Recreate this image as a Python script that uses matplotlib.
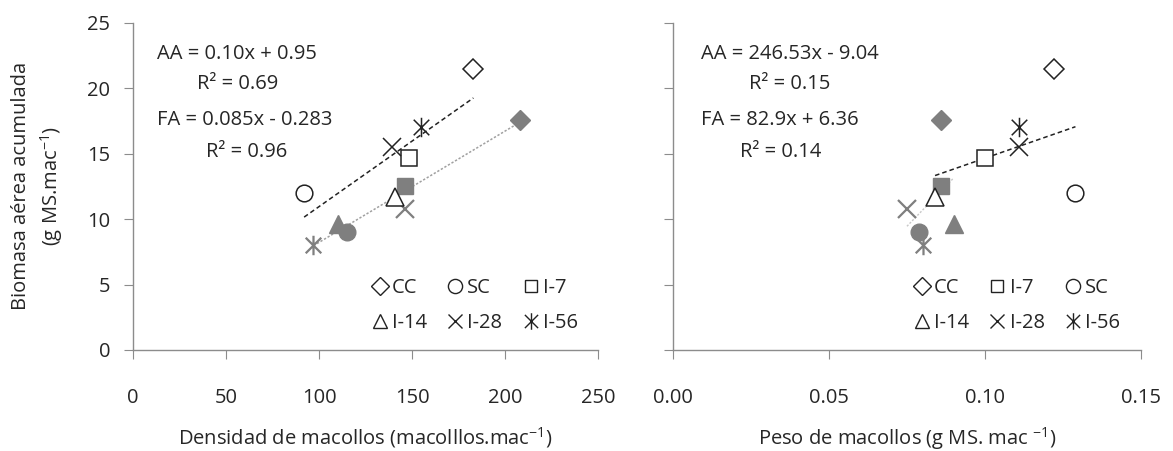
import matplotlib
matplotlib.use('Agg')
import matplotlib.pyplot as plt
from matplotlib.path import Path
from matplotlib.lines import Line2D

plt.rcParams['font.family'] = ['Open Sans', 'DejaVu Sans']
plt.rcParams['mathtext.fontset'] = 'custom'
plt.rcParams['mathtext.rm'] = 'Open Sans'
plt.rcParams['mathtext.it'] = 'Open Sans:italic'

# datos
tratamientos = ['CC', 'SC', 'I-7', 'I-14', 'I-28', 'I-56']
biomasa_aa = [21.5, 12.0, 14.7, 11.7, 15.5, 17.0]
biomasa_fa = [17.6, 9.0, 12.5, 9.6, 10.8, 8.0]
densidad_aa = [183, 92, 148.5, 141, 139, 155]
densidad_fa = [208, 115, 146.5, 110, 146, 97]
peso_aa = [0.122, 0.129, 0.100, 0.084, 0.111, 0.111]
peso_fa = [0.086, 0.079, 0.086, 0.090, 0.075, 0.080]

# ecuaciones (pendiente, ordenada)
recta_dens_aa = (0.10, 0.95)
recta_dens_fa = (0.085, -0.283)
recta_peso_negra = (82.9, 6.36)
recta_peso_gris = (246.53, -9.04)

textos_dens = ['AA = 0.10x + 0.95', 'R² = 0.69', 'FA = 0.085x - 0.283', 'R² = 0.96']
textos_peso = ['AA = 246.53x - 9.04', 'R² = 0.15', 'FA = 82.9x + 6.36', 'R² = 0.14']

asterisco = Path([(-1, -1), (1, 1), (-1, 1), (1, -1), (0, -1.25), (0, 1.25)],
                 [Path.MOVETO, Path.LINETO, Path.MOVETO, Path.LINETO, Path.MOVETO, Path.LINETO])
marcadores = {'CC': 'D', 'SC': 'o', 'I-7': 's', 'I-14': '^', 'I-28': 'x', 'I-56': asterisco}
tamanos = {'CC': 10.5, 'SC': 12, 'I-7': 11, 'I-14': 12.5, 'I-28': 12.5, 'I-56': 14}

GRIS = '#7f7f7f'
EJE = '#8c8c8c'
TXT = '#262626'
FS = 14.5

fig = plt.figure(figsize=(11.73, 4.51), dpi=100)
ax1 = fig.add_axes([0.1134, 0.224, 0.3964, 0.7257])
ax2 = fig.add_axes([0.5737, 0.224, 0.3990, 0.7257])


def dibujar(ax, x_aa, x_fa):
    for i, t in enumerate(tratamientos):
        m = marcadores[t]
        ms = tamanos[t]
        lineal = t in ('I-28', 'I-56')
        # FA en gris relleno
        ax.plot(x_fa[i], biomasa_fa[i], linestyle='none', marker=m, ms=ms,
                color=GRIS, mfc=GRIS, mec=GRIS, mew=1.6 if lineal else 1.0, zorder=4)
        # AA en negro abierto
        ax.plot(x_aa[i], biomasa_aa[i], linestyle='none', marker=m, ms=ms,
                color='#222222', mfc='white' if not lineal else 'none', mec='#222222',
                mew=1.1, zorder=5)


def recta(ax, coef, xs, **kw):
    x0, x1 = min(xs), max(xs)
    ax.plot([x0, x1], [coef[0] * x0 + coef[1], coef[0] * x1 + coef[1]], **kw)


def estilo(ax, xmax, ticks, etiquetas, xlabel):
    ax.set_xlim(0, xmax)
    ax.set_ylim(0, 25)
    ax.set_xticks(ticks)
    ax.set_xticklabels(etiquetas)
    ax.set_yticks([0, 5, 10, 15, 20, 25])
    for s in ['top', 'right']:
        ax.spines[s].set_visible(False)
    for s in ['left', 'bottom']:
        ax.spines[s].set_color(EJE)
        ax.spines[s].set_linewidth(1.0)
    ax.tick_params(axis='x', direction='out', length=6.5, color=EJE, pad=21,
                   labelsize=FS, labelcolor=TXT)
    ax.tick_params(axis='y', direction='out', length=6.5, color=EJE, pad=10,
                   labelsize=FS, labelcolor=TXT)
    ax.set_xlabel(xlabel, fontsize=FS, color=TXT, labelpad=12)


# panel izquierdo
dibujar(ax1, densidad_aa, densidad_fa)
recta(ax1, recta_dens_aa, densidad_aa, color='#222222', lw=1.1, ls=(0, (3, 2)), zorder=3)
recta(ax1, recta_dens_fa, densidad_fa, color='#a0a0a0', lw=1.1, ls=(0, (1.5, 1.2)), zorder=3)
estilo(ax1, 250, [0, 50, 100, 150, 200, 250], ['0', '50', '100', '150', '200', '250'],
       'Densidad de macollos (macolllos.mac$^{-1}$)')
ax1.set_ylabel('Biomasa aérea acumulada\n(g MS.mac$^{-1}$)', fontsize=FS, color=TXT,
               labelpad=16, linespacing=1.35)
pos_y = [0.904, 0.813, 0.703, 0.605]
for txt, yy, xx in zip(textos_dens, pos_y, [0.224, 0.224, 0.24, 0.245]):
    ax1.text(xx, yy, txt, transform=ax1.transAxes, ha='center', va='center',
             fontsize=FS, color=TXT)

# panel derecho
dibujar(ax2, peso_aa, peso_fa)
recta(ax2, recta_peso_negra, peso_aa[3:4] + peso_aa[1:2], color='#222222', lw=1.1,
      ls=(0, (3, 2)), zorder=3)
recta(ax2, recta_peso_gris, peso_fa, color='#c8c8c8', lw=1.0, ls=(0, (1.5, 1.2)), zorder=2)
estilo(ax2, 0.15, [0, 0.05, 0.10, 0.15], ['0.00', '0.05', '0.10', '0.15'],
       'Peso de macollos (g MS. mac $^{-1}$)')
ax2.set_yticklabels([])
for txt, yy, xx in zip(textos_peso, pos_y, [0.25, 0.25, 0.228, 0.23]):
    ax2.text(xx, yy, txt, transform=ax2.transAxes, ha='center', va='center',
             fontsize=FS, color=TXT)


def leyenda(ax, orden, ancla):
    hs = []
    for t in orden:
        lineal = t in ('I-28', 'I-56')
        hs.append(Line2D([], [], linestyle='none', marker=marcadores[t], ms=tamanos[t] * 0.85,
                         mfc='none' if lineal else 'white', mec='#222222', mew=1.0, label=t))
    ley = ax.legend(handles=hs, ncol=3, loc='center', bbox_to_anchor=ancla, frameon=False,
                    fontsize=FS, handlelength=0.8, handletextpad=0.2, columnspacing=1.0,
                    labelspacing=0.75, borderaxespad=0)
    for tx in ley.get_texts():
        tx.set_color(TXT)


leyenda(ax1, ['CC', 'I-14', 'SC', 'I-28', 'I-7', 'I-56'], (0.735, 0.135))
leyenda(ax2, ['CC', 'I-14', 'I-7', 'I-28', 'SC', 'I-56'], (0.735, 0.135))

fig.savefig('out.png', dpi=100)
